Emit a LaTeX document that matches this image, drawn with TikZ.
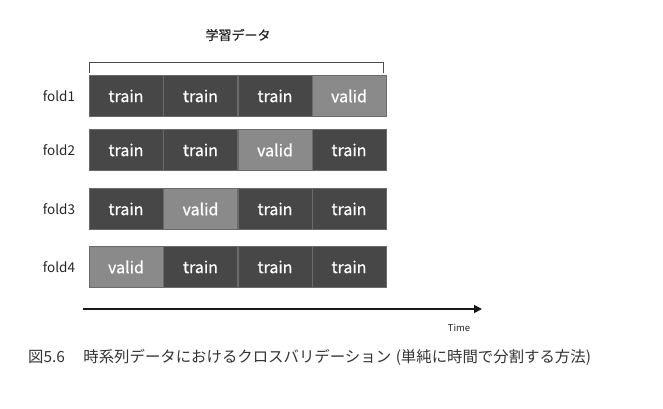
\documentclass[tikz,border=0pt]{standalone}
\usepackage{fontspec}
\setmainfont{Noto Sans CJK JP}
\newfontfamily\medfont[FakeBold=0.6]{Noto Sans CJK JP}
\usetikzlibrary{arrows.meta}
\definecolor{darkcell}{HTML}{474747}
\definecolor{validcell}{HTML}{8A8A8A}
\definecolor{cellline}{HTML}{6A6A6A}
\tikzset{
  cell/.style={draw=cellline, line width=0.8pt, minimum width=74pt, minimum height=41pt, inner sep=0pt, text=white, font=\medfont\fontsize{16}{16}\selectfont, anchor=center},
  trainc/.style={cell, fill=darkcell},
  validc/.style={cell, fill=validcell},
  foldlab/.style={font=\fontsize{13.5}{13.5}\selectfont, text=black!85, anchor=center},
}
\begin{document}
\begin{tikzpicture}[x=1pt,y=-1pt]
\useasboundingbox (0,0) rectangle (663,409);
% header
\node[font=\medfont\fontsize{13}{13}\selectfont, text=black!85] (hdr) at (238,35) {学習データ};
\coordinate (bl) at (89,73);
\coordinate (blt) at (89,62);
\coordinate (brt) at (383,62);
\coordinate (br) at (383,73);
\draw[line width=0.8pt, black!70] (bl) -- (blt) -- (brt) -- (br);
% rows
\foreach \r/\y/\v in {1/96/4, 2/150/3, 3/209/2, 4/267/1}{
  \node[foldlab] (f\r) at (59,\y) {fold\r};
  \foreach \c/\x in {1/126, 2/200.5, 3/275, 4/349}{
    \ifnum\c=\v
      \node[validc] (c\r\c) at (\x,\y) {valid};
    \else
      \node[trainc] (c\r\c) at (\x,\y) {train};
    \fi
  }
}
% time arrow
\coordinate (ta) at (83,309);
\coordinate (tb) at (482,309);
\draw[line width=1.6pt, black!90, -{Triangle[length=8pt,width=8pt]}] (ta) -- (tb);
\node[font=\fontsize{9.5}{9.5}\selectfont, text=black!85] (time) at (459,328) {Time};
% caption
\node[font=\fontsize{15.4}{15.4}\selectfont, text=black!80, anchor=west, inner sep=0pt] (cap) at (28,357) {図5.6\hspace{1.2em}時系列データにおけるクロスバリデーション\hspace{0.3em}(単純に時間で分割する方法)};
\end{tikzpicture}
\end{document}
